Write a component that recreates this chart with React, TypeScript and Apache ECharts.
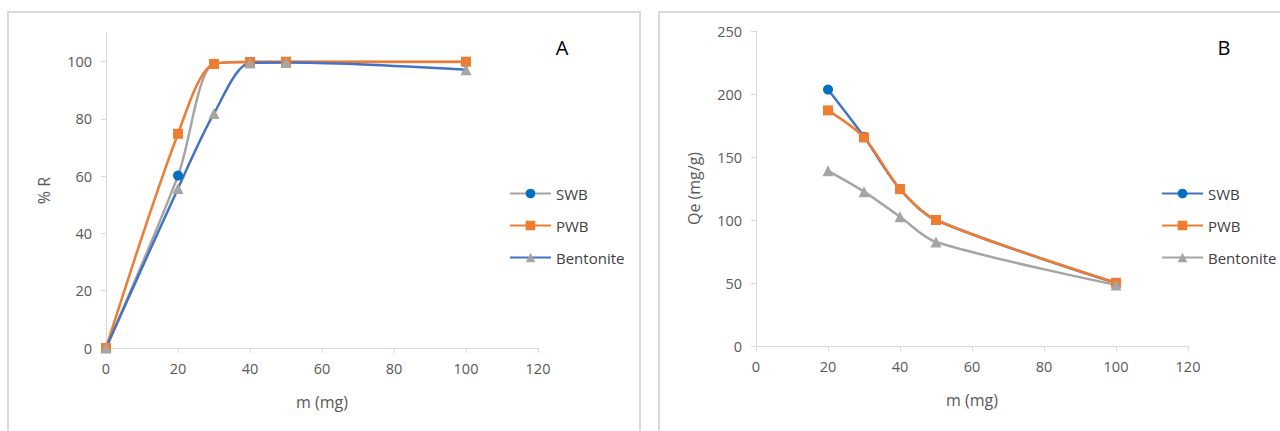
import React, { useEffect, useRef } from "react";
import * as echarts from "echarts";

// Panel A: % removal vs adsorbent mass
const massA = [0, 20, 30, 40, 50, 100];
const swbA = [0, 60.2, 99.3, 99.9, 99.9, 99.9];
const pwbA = [0, 74.8, 99.2, 99.9, 100, 100];
const bentA = [0, 55.7, 81.9, 99.5, 99.7, 97.2];

// Panel B: Qe vs adsorbent mass
const massB = [20, 30, 40, 50, 100];
const swbB = [203.5, 166, 124.5, 100, 50];
const pwbB = [187, 165.5, 124.5, 100, 50.2];
const bentB = [139, 122.5, 102.5, 82.5, 48.5];

const xTicks = [0, 20, 40, 60, 80, 100, 120];
const yTicksA = [0, 20, 40, 60, 80, 100];
const yTicksB = [0, 50, 100, 150, 200, 250];

const FONT = "'Open Sans', 'Noto Sans', sans-serif";
const BLUE = "#4472C4";
const BLUE_MK = "#0070C0";
const ORANGE = "#ED7D31";
const GRAY = "#A5A5A5";
const AXIS = "#D9D9D9";
const LABEL = "#595959";

function pairs(xs: number[], ys: number[]) {
  return xs.map((x, i) => [x, ys[i]]);
}

function makeOption(cfg: any) {
  return {
    animation: false,
    textStyle: { fontFamily: FONT },
    graphic: [
      {
        type: "rect",
        shape: { x: cfg.boxX, y: 12, width: cfg.boxW, height: 440 },
        style: { fill: "none", stroke: AXIS, lineWidth: 2 },
        silent: true,
      },
      {
        type: "text",
        x: cfg.letterX,
        y: 47,
        style: {
          text: cfg.letter,
          font: `20px ${FONT}`,
          fill: "#000",
          align: "center",
          verticalAlign: "middle",
        },
      },
    ],
    grid: { left: 106, top: cfg.gridTop, width: 432, height: 315, containLabel: false },
    legend: {
      orient: "vertical",
      left: cfg.legendLeft,
      top: 180,
      itemWidth: 41,
      itemHeight: 12,
      itemGap: 15,
      textStyle: { fontFamily: FONT, fontSize: 15, color: "#404040", lineHeight: 17 },
      data: ["SWB", "PWB", "Bentonite"],
    },
    xAxis: {
      type: "value",
      min: 0,
      max: 120,
      interval: 20,
      name: "m (mg)",
      nameLocation: "middle",
      nameGap: 46,
      nameTextStyle: { fontFamily: FONT, fontSize: 16, color: LABEL },
      axisLine: { show: true, lineStyle: { color: AXIS, width: 1 } },
      axisTick: { show: true, inside: false, length: 5, lineStyle: { color: AXIS }, customValues: xTicks },
      axisLabel: { fontFamily: FONT, fontSize: 14.5, color: LABEL, margin: 13, customValues: xTicks },
      splitLine: { show: false },
    },
    yAxis: {
      type: "value",
      min: 0,
      max: cfg.yMax,
      interval: cfg.yInterval,
      name: cfg.yName,
      nameLocation: "middle",
      nameGap: cfg.yNameGap,
      nameTextStyle: { fontFamily: FONT, fontSize: 16, color: LABEL },
      axisLine: { show: true, lineStyle: { color: AXIS, width: 1 } },
      axisTick: { show: true, inside: false, length: 5, lineStyle: { color: AXIS }, customValues: cfg.yTicks },
      axisLabel: { fontFamily: FONT, fontSize: 14.5, color: LABEL, margin: 14, customValues: cfg.yTicks },
      splitLine: { show: false },
    },
    series: cfg.series,
  };
}

function line(name: string, data: number[][], lineColor: string, markColor: string, symbol: string, size: number, smooth: number) {
  return {
    name,
    type: "line",
    data,
    smooth,
    symbol,
    symbolSize: size,
    showSymbol: true,
    lineStyle: { color: lineColor, width: 2.5 },
    itemStyle: { color: markColor, borderWidth: 0 },
    emphasis: { disabled: true },
  };
}

export default function App() {
  const refA = useRef<HTMLDivElement>(null);
  const refB = useRef<HTMLDivElement>(null);

  useEffect(() => {
    const a = echarts.init(refA.current!, null, { renderer: "svg" });
    const b = echarts.init(refB.current!, null, { renderer: "svg" });

    a.setOption(
      makeOption({
        boxX: 8,
        boxW: 632,
        letter: "A",
        letterX: 562,
        gridTop: 33,
        legendLeft: 504,
        yMax: 110,
        yInterval: 10,
        yTicks: yTicksA,
        yName: "% R",
        yNameGap: 54,
        series: [
          line("SWB", pairs(massA, swbA), GRAY, BLUE_MK, "circle", 10, 0.3),
          line("PWB", pairs(massA, pwbA), ORANGE, ORANGE, "rect", 10, 0.3),
          line("Bentonite", pairs(massA, bentA), BLUE, GRAY, "triangle", 11, 0.3),
        ],
      })
    );

    b.setOption(
      makeOption({
        boxX: 9,
        boxW: 700,
        letter: "B",
        letterX: 574,
        gridTop: 31,
        legendLeft: 506,
        yMax: 250,
        yInterval: 50,
        yTicks: yTicksB,
        yName: "Qe (mg/g)",
        yNameGap: 54,
        series: [
          line("SWB", pairs(massB, swbB), BLUE, BLUE_MK, "circle", 10, 0.3),
          line("PWB", pairs(massB, pwbB), ORANGE, ORANGE, "rect", 10, 0.3),
          line("Bentonite", pairs(massB, bentB), GRAY, GRAY, "triangle", 11, 0.3),
        ],
      })
    );

    return () => {
      a.dispose();
      b.dispose();
    };
  }, []);

  return (
    <div style={{ position: "absolute", left: 0, top: 0, width: 1280, height: 431, background: "#fff", overflow: "hidden" }}>
      <div ref={refA} style={{ position: "absolute", left: 0, top: 0, width: 650, height: 431 }} />
      <div ref={refB} style={{ position: "absolute", left: 650, top: 0, width: 630, height: 431 }} />
    </div>
  );
}
